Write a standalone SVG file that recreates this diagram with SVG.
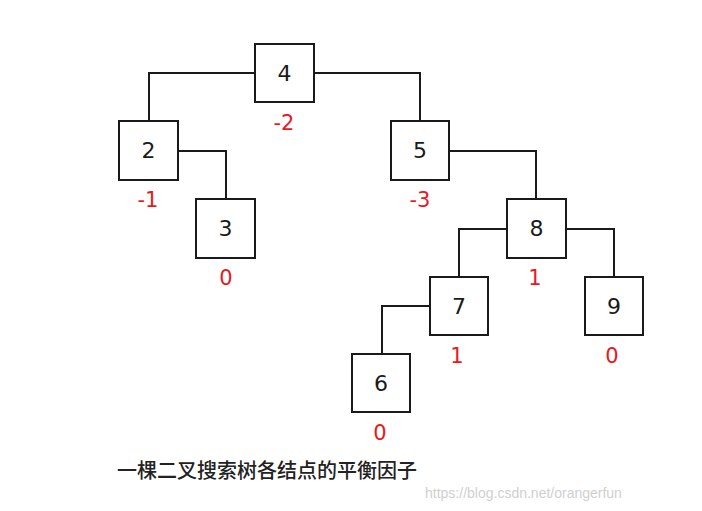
<svg xmlns="http://www.w3.org/2000/svg" width="702" height="511" viewBox="0 0 702 511">
<style>
.box{fill:#fff;stroke:#1a1a1a;stroke-width:2}
.num{font-family:"DejaVu Sans",Verdana,sans-serif;font-size:22px;fill:#1a1a1a;text-anchor:middle}
.bf{font-family:"DejaVu Sans",Verdana,sans-serif;font-size:21px;fill:#e8191e;text-anchor:middle}
.edge{fill:none;stroke:#1a1a1a;stroke-width:2}
</style>
<rect width="702" height="511" fill="#fff"/>
<g id="connectors">
<path class="edge" d="M255,73 H149 V121"/>
<path class="edge" d="M314,73 H420 V121"/>
<path class="edge" d="M178,151 H226 V199"/>
<path class="edge" d="M449,151 H536 V199"/>
<path class="edge" d="M507,229 H459 V277"/>
<path class="edge" d="M566,229 H614 V277"/>
<path class="edge" d="M430,306 H382 V354"/>
</g>
<g id="n4"><rect class="box" x="255" y="44" width="59" height="58"/><text class="num" x="284.5" y="81">4</text><text class="bf" x="284" y="130">-2</text></g>
<g id="n2"><rect class="box" x="119" y="121" width="59" height="59"/><text class="num" x="148.5" y="158">2</text><text class="bf" x="148" y="207">-1</text></g>
<g id="n5"><rect class="box" x="391" y="121" width="58" height="59"/><text class="num" x="420" y="158">5</text><text class="bf" x="420" y="207">-3</text></g>
<g id="n3"><rect class="box" x="196" y="199" width="59" height="59"/><text class="num" x="225.5" y="236">3</text><text class="bf" x="226" y="285">0</text></g>
<g id="n8"><rect class="box" x="507" y="199" width="59" height="59"/><text class="num" x="536.5" y="236">8</text><text class="bf" x="535" y="285">1</text></g>
<g id="n7"><rect class="box" x="430" y="277" width="58" height="58"/><text class="num" x="459" y="314">7</text><text class="bf" x="457" y="363">1</text></g>
<g id="n9"><rect class="box" x="585" y="277" width="58" height="58"/><text class="num" x="614" y="314">9</text><text class="bf" x="612" y="363">0</text></g>
<g id="n6"><rect class="box" x="352" y="354" width="58" height="58"/><text class="num" x="381" y="391">6</text><text class="bf" x="380" y="440">0</text></g>
<text x="117" y="478" style="font-family:'Noto Sans CJK SC',sans-serif;font-size:20px;font-weight:500;fill:#222">一棵二叉搜索树各结点的平衡因子</text>
<text x="425" y="498" style="font-family:'Liberation Sans',Arial,sans-serif;font-size:14px;fill:#d0d0d0">https://blog.csdn.net/orangerfun</text>
</svg>
